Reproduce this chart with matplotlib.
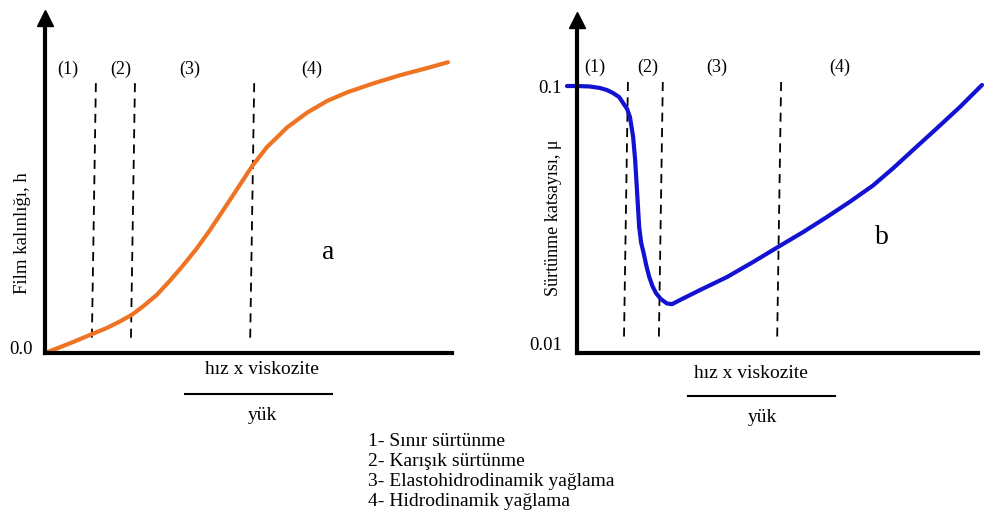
import numpy as np
import matplotlib.pyplot as plt
from matplotlib.lines import Line2D
from matplotlib.transforms import ScaledTranslation

plt.rcParams['font.family'] = ['Liberation Serif', 'DejaVu Serif']

# panel a: film thickness vs. speed*viscosity/load (arbitrary units)
film_x = [0.0, 3.7, 6.9, 11.5, 15.2, 18.4, 21.4, 24.1, 27.5, 30.7, 33.9, 37.3, 40.5, 43.7,
          47.2, 50.9, 54.5, 59.5, 64.4, 69.3, 74.2, 80.6, 87.2, 93.9, 99.0]
film_h = [0.0, 0.017, 0.032, 0.055, 0.073, 0.092, 0.112, 0.136, 0.170, 0.211, 0.255, 0.305, 0.358, 0.415,
          0.478, 0.545, 0.600, 0.658, 0.701, 0.735, 0.760, 0.786, 0.810, 0.831, 0.848]

# panel b: friction coefficient (log scale)
fric_x = [-2.5, 0.0, 3.2, 5.7, 7.5, 9.0, 10.5, 11.5, 12.5, 13.2, 14.0, 14.5, 15.0, 15.5, 16.0, 16.6,
          17.3, 18.0, 18.8, 19.7, 20.9, 22.4, 23.7, 25.7, 30.7, 37.4, 43.9, 50.1, 56.4, 62.3, 68.1,
          73.8, 78.8, 83.8, 89.8, 95.5, 101.0]
fric_mu = [0.1, 0.1, 0.0996, 0.0983, 0.0965, 0.0940, 0.0908, 0.0861, 0.0817, 0.0762, 0.0639, 0.0522,
           0.0391, 0.0290, 0.0252, 0.0231, 0.0206, 0.0187, 0.01726, 0.0162, 0.01538, 0.0148, 0.0147,
           0.01525, 0.01665, 0.01866, 0.02129, 0.02429, 0.02771, 0.03162, 0.03620, 0.04170, 0.04850,
           0.0570, 0.0691, 0.0832, 0.1009]

# regime boundaries (top x, bottom x) - hand drawn, slightly slanted
bounds_a = [(12.5, 11.5), (22.1, 21.1), (51.4, 50.4)]
bounds_b = [(12.7, 11.7), (21.4, 20.4), (50.9, 49.9)]
region_labels = ['(1)', '(2)', '(3)', '(4)']
label_x_a = [5.7, 18.7, 35.6, 65.6]
label_x_b = [4.5, 17.7, 34.9, 65.6]
regimes = ['1- Sınır sürtünme', '2- Karışık sürtünme',
           '3- Elastohidrodinamik yağlama', '4- Hidrodinamik yağlama']

W, H = 985, 513
fig = plt.figure(figsize=(W / 100, H / 100), dpi=100)


def px_box(left, right, top, bottom):
    return [left / W, 1 - bottom / H, (right - left) / W, (bottom - top) / H]


def style_axes(ax):
    for s in ['top', 'right']:
        ax.spines[s].set_visible(False)
    for s in ['left', 'bottom']:
        ax.spines[s].set_linewidth(3)
        ax.spines[s].set_capstyle('projecting')
    ax.set_xticks([])
    ax.tick_params(axis='y', length=0, labelsize=13.5)
    ax.plot([0], [1], marker='^', ms=11, color='black', transform=ax.transAxes, clip_on=False)


def lift_bottom_label(ax):
    lab = ax.get_yticklabels()[0]
    lab.set_transform(lab.get_transform() + ScaledTranslation(0, 5 / 100, fig.dpi_scale_trans))


dash = (0, (5, 3.5))
curve_kw = dict(lw=3, clip_on=False, solid_capstyle='round', solid_joinstyle='round')

# ---- panel a
ax1 = fig.add_axes(px_box(45, 452, 18, 353))
style_axes(ax1)
ax1.set_xlim(0, 100)
ax1.set_ylim(0, 0.977)
ax1.set_yticks([0.0])
ax1.set_yticklabels(['0.0'])
ax1.tick_params(axis='y', pad=9)
lift_bottom_label(ax1)
for xt, xb in bounds_a:
    ax1.plot([xt, xb], [0.787, 0.029], color='black', lw=1.3, linestyle=dash)
ax1.plot(film_x, film_h, color='#EE7424', **curve_kw)
for lab, lx in zip(region_labels, label_x_a):
    ax1.text(lx, 0.828, lab, ha='center', va='center', fontsize=13)
ax1.text(69.5, 0.294, 'a', ha='center', va='center', fontsize=20)

# ---- panel b
ax2 = fig.add_axes(px_box(577, 978, 20, 353))
style_axes(ax2)
ax2.set_xlim(0, 100)
ax2.set_yscale('log')
ax2.set_ylim(10 ** -2.019, 10 ** -0.748)
ax2.set_yticks([0.01, 0.1])
ax2.set_yticklabels(['0.01', '0.1'])
ax2.yaxis.set_minor_locator(plt.NullLocator())
ax2.tick_params(axis='y', pad=11)
lift_bottom_label(ax2)
for xt, xb in bounds_b:
    ax2.plot([xt, xb], [0.1036, 0.0105], color='black', lw=1.3, linestyle=dash)
ax2.plot(fric_x, fric_mu, color='#1212D2', **curve_kw)
for lab, lx in zip(region_labels, label_x_b):
    ax2.text(lx, 0.118, lab, ha='center', va='center', fontsize=13)
ax2.text(76.1, 0.0263, 'b', ha='center', va='center', fontsize=20)

# axis titles
fig.text(23 / W, 1 - 233 / H, 'Film kalınlığı, h', rotation=90, ha='center', va='center', fontsize=13.5)
fig.text(553 / W, 1 - 218 / H, 'Sürtünme katsayısı, μ', rotation=90, ha='center', va='center', fontsize=13)

for cx, y_num, y_bar, y_den, x0, x1, cden in [(262, 370, 394, 416, 185, 332, 262),
                                               (751, 373, 396, 417, 688, 835, 763)]:
    fig.text(cx / W, 1 - y_num / H, 'hız x viskozite', ha='center', va='center', fontsize=14)
    fig.add_artist(Line2D([x0 / W, x1 / W], [1 - y_bar / H] * 2, color='black', lw=1.5))
    fig.text(cden / W, 1 - y_den / H, 'yük', ha='center', va='center', fontsize=14)

for i, r in enumerate(regimes):
    fig.text(368 / W, 1 - (442 + 20 * i) / H, r, ha='left', va='center', fontsize=14)

fig.savefig('out.png', dpi=100)
